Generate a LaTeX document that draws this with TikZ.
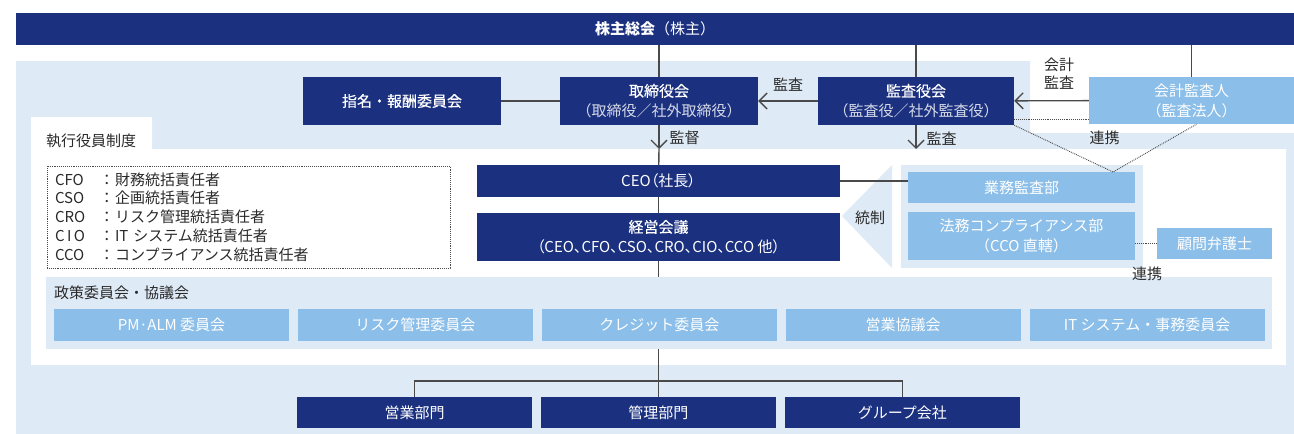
\documentclass[tikz,border=0pt]{standalone}
\usepackage{fontspec}
\setmainfont{Noto Sans CJK JP}
\newfontfamily\jpmed{Noto Sans CJK JP}[FakeBold=0.4]
\newfontfamily\jpprop{Noto Sans CJK JP}[RawFeature=+palt]
\usepackage{xcolor}
\definecolor{kinavy}{HTML}{1B3180}
\definecolor{kiblue}{HTML}{8BBEE8}
\definecolor{kiarea}{HTML}{DEEAF6}
\definecolor{kiline}{HTML}{4A4A4A}
\definecolor{kitext}{HTML}{2A2A2A}
\usepackage{tikz}
\usetikzlibrary{positioning,arrows.meta}
\newcommand{\jfs}{\fontsize{15}{20}\selectfont}
\newcommand{\subline}[1]{{\color{white!82!kinavy}#1}}
\newcommand{\yrow}[2]{\makebox[44pt][l]{#1}\makebox[16pt]{：}#2}
\tikzset{
  nbox/.style ={rectangle, fill=kinavy, text=white, align=center, inner sep=0pt, font=\jfs},
  lbox/.style ={rectangle, fill=kiblue, text=white, align=center, inner sep=0pt, font=\jfs},
  pbox/.style ={lbox, minimum width=235pt, minimum height=32pt},
  bbox/.style ={nbox, minimum width=235pt, minimum height=31pt},
  zone/.style ={rectangle, fill=kiarea, inner sep=0pt},
  ln/.style   ={draw=kiline, line width=1.4pt},
  arr/.style  ={ln, -{Straight Barb[length=8pt,width=16pt]}},
  dln/.style  ={draw=kiline, line width=0.9pt, densely dotted},
  lbl/.style  ={font=\fontsize{15}{18}\selectfont, text=kitext, inner sep=0pt, align=center},
}

\begin{document}
\begin{tikzpicture}[x=1pt,y=-1pt]
  \useasboundingbox (0,0) rectangle (1294,434);
  % background areas
  \fill[kiarea] (16,61) -- (1030,61) -- (1030,133) -- (1294,133) -- (1294,434) -- (16,434) -- cycle;
  \fill[white] (31,117) -- (152,117) -- (152,149) -- (1286,149) -- (1286,365) -- (31,365) -- cycle;
  \coordinate (wtop) at (0,149);
  \node[zone, minimum width=242pt, minimum height=103pt] (hbg) at (1022,216.5) {};
  \fill[kiarea] (842,216) -- (892,165) -- (892,268) -- cycle;
  \node[zone, minimum width=1226pt, minimum height=72pt] (seisaku) at (659,313) {};
  \node[lbl, anchor=west] (tab) at (46,141) {執行役員制度};
  \node[lbl, anchor=west] (seisakut) at (54,293) {政策委員会・協議会};

  % top row
  \node[nbox, minimum width=1278pt, minimum height=32pt] (soukai) at (655,29) {{\bfseries 株主総会}（株主）};
  \node[nbox, minimum width=198pt, minimum height=48pt] (shimei) at (402,101) {\jpmed 指名・報酬委員会};
  \node[nbox, minimum width=198pt, minimum height=48pt] (torishimari) at (659,101)
    {{\jpmed 取締役会}\\\subline{（取締役／社外取締役）}};
  \node[nbox, minimum width=196pt, minimum height=48pt] (kansayaku) at (916,101)
    {{\jpmed 監査役会}\\\subline{（監査役／社外監査役）}};
  \node[lbox, minimum width=205pt, minimum height=47pt] (kaikei) at (1191.5,100.5) {会計監査人\\（監査法人）};

  % executive
  \node[nbox, minimum width=363pt, minimum height=32pt] (ceo) at (658.5,181) {\jpprop CEO（社長）};
  \node[nbox, minimum width=363pt, minimum height=48pt] (keiei) at (658.5,237)
    {{\jpmed 経営会議}\\{\jpprop（CEO、CFO、CSO、CRO、CIO、CCO 他）}};
  \node[lbox, minimum width=227pt, minimum height=31pt] (gyomu) at (1021.5,187.5) {業務監査部};
  \node[lbox, minimum width=227pt, minimum height=48pt] (houmu) at (1021.5,236) {法務コンプライアンス部\\（CCO 直轄）};
  \node[lbox, minimum width=115pt, minimum height=31pt] (komon) at (1214.5,243.5) {顧問弁護士};
  \node[draw=kiline, densely dotted, line width=0.9pt, minimum width=403pt, minimum height=102pt,
        text width=387pt, inner xsep=8pt, inner ysep=0pt, align=left, text=kitext,
        font=\fontsize{15}{18.75}\selectfont] (yakuin) at (248.5,217)
    {\yrow{CFO}{財務統括責任者}\\\yrow{CSO}{企画統括責任者}\\\yrow{CRO}{リスク管理統括責任者}\\
     \yrow{C\,I\,O}{IT システム統括責任者}\\\yrow{CCO}{コンプライアンス統括責任者}};

  % committees
  \node[pbox] (pmalm) at (171.5,325) {PM·ALM 委員会};
  \node[pbox, right=8.5pt of pmalm] (risk) {リスク管理委員会};
  \node[pbox, right=8.5pt of risk] (credit) {クレジット委員会};
  \node[pbox, right=8.5pt of credit] (eigyokyo) {営業協議会};
  \node[pbox, right=8.5pt of eigyokyo] (itsys) {IT システム・事務委員会};

  % divisions
  \node[bbox] (eigyo) at (414.5,412.5) {営業部門};
  \node[bbox, right=8.5pt of eigyo] (kanri) {管理部門};
  \node[bbox, right=8.5pt of kanri] (group) {グループ会社};

  % connectors
  \draw[ln] (torishimari.north) -- (torishimari.north |- soukai.south);
  \draw[ln] (kansayaku.north) -- (kansayaku.north |- soukai.south);
  \draw[ln] (kaikei.north) -- (kaikei.north |- soukai.south);
  \draw[ln] (shimei) -- (torishimari);
  \draw[arr] (kansayaku) -- node[lbl, above=9pt] {監査} (torishimari);
  \draw[arr] (kaikei) -- (kansayaku);
  \node[lbl] at (1059,74) {会計\\監査};
  \draw[dln] ([yshift=6pt]kansayaku.south east) -- ([yshift=6pt]kansayaku.south east -| kaikei.west);
  \coordinate (renkei) at (1113,172);
  \draw[dln] (kansayaku.south east) -- (renkei) -- ([xshift=5pt]kaikei.south);
  \node[lbl] at (1104.5,138) {連携};
  \coordinate (kantoku) at (torishimari.south |- wtop);
  \draw[arr] (torishimari.south) -- (kantoku) node[lbl, right=10pt, pos=0.55] {監督};
  \draw[ln] (kantoku) -- (ceo);
  \draw[arr] (kansayaku.south) -- (kansayaku.south |- wtop) node[lbl, right=10pt, pos=0.55] {監査};
  \draw[ln] (ceo) -- (keiei);
  \draw[ln] (keiei.south) -- (keiei.south |- seisaku.north);
  \draw[ln] (ceo.east) -- (ceo.east -| gyomu.west);
  \node[lbl] at (870,218) {統制};
  \draw[dln] (komon.west) -- (komon.west -| houmu.east);
  \node[lbl] at (1147,274) {連携};
  \draw[ln] (kanri.north |- seisaku.south) -- (kanri.north);
  \draw[ln] (eigyo.north) -- ++(0,-16) -| (group.north);
\end{tikzpicture}
\end{document}
